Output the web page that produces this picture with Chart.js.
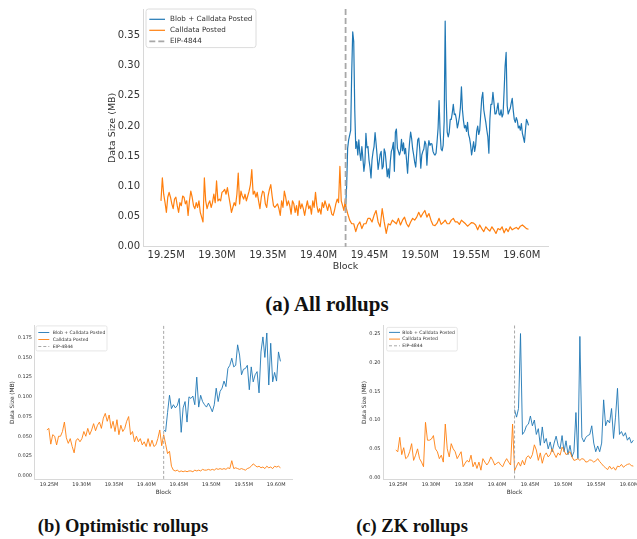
<!DOCTYPE html>
<html>
<head>
<meta charset="utf-8">
<script src="https://cdn.jsdelivr.net/npm/chart.js@4.4.0/dist/chart.umd.min.js"></script>
<style>
  html, body { margin: 0; padding: 0; background: #fff; }
  body { width: 637px; height: 539px; position: relative; overflow: hidden; }
  canvas { position: absolute; }
  .cap {
    position: absolute;
    font-family: "Liberation Serif", "DejaVu Serif", serif;
    font-weight: bold;
    color: #111;
    white-space: nowrap;
    line-height: 1;
    transform: translateX(-50%);
  }
</style>
</head>
<body>
<canvas id="allChart" width="470" height="272" style="left:100px;top:0px"></canvas>
<canvas id="optChart" width="300" height="176" style="left:0px;top:320px"></canvas>
<canvas id="zkChart" width="310" height="176" style="left:350px;top:320px"></canvas>
<div class="cap" style="left:327px;top:294px;font-size:21px">(a) All rollups</div>
<div class="cap" style="left:123px;top:517px;font-size:18.5px">(b) Optimistic rollups</div>
<div class="cap" style="left:412px;top:517px;font-size:18.5px">(c) ZK rollups</div>

<script>
const EIP_4844_BLOCK = 19426587;

// x axis shared by the three panels
const blockMin = 19227200;
const blockMax = 19625800;
const blockTicks = [19250000, 19300000, 19350000, 19400000, 19450000, 19500000, 19550000, 19600000];
const blockTickLabels = ['19.25M', '19.30M', '19.35M', '19.40M', '19.45M', '19.50M', '19.55M', '19.60M'];

// (a) all rollups
// calldata before the fork, bins of 1334 blocks
const allPreStart = 19244900;
const allPreStep = 1334;
const allCalldataPre = [
  0.076, 0.114, 0.087, 0.073, 0.057, 0.082, 0.090, 0.082, 0.071, 0.063,
  0.079, 0.082, 0.068, 0.057, 0.073, 0.068, 0.084, 0.082, 0.071, 0.076,
  0.052, 0.076, 0.092, 0.082, 0.068, 0.063, 0.073, 0.065, 0.076, 0.057,
  0.049, 0.041, 0.114, 0.076, 0.063, 0.071, 0.076, 0.065, 0.073, 0.087,
  0.073, 0.109, 0.076, 0.079, 0.076, 0.090, 0.092, 0.095, 0.087, 0.098,
  0.084, 0.071, 0.057, 0.065, 0.073, 0.068, 0.087, 0.122, 0.071, 0.092,
  0.084, 0.079, 0.087, 0.076, 0.084, 0.092, 0.103, 0.128, 0.087, 0.092,
  0.082, 0.090, 0.076, 0.063, 0.082, 0.092, 0.090, 0.071, 0.065, 0.084,
  0.095, 0.103, 0.084, 0.068, 0.065, 0.068, 0.071, 0.063, 0.052, 0.076,
  0.065, 0.092, 0.082, 0.068, 0.076, 0.068, 0.054, 0.076, 0.071, 0.057,
  0.068, 0.052, 0.076, 0.063, 0.071, 0.063, 0.052, 0.065, 0.076, 0.063,
  0.068, 0.054, 0.076, 0.065, 0.090, 0.068, 0.057, 0.063, 0.054, 0.073,
  0.065, 0.076, 0.068, 0.060, 0.071, 0.065, 0.054, 0.052, 0.060, 0.071,
  0.079, 0.073, 0.133, 0.076, 0.068, 0.060, 0.079
];
// calldata from the fork on, bins of 2000 blocks
const allPostStart = 19426600;
const allPostStep = 2000;
const allCalldataPost = [
  0.068,
  0.055, 0.044, 0.038, 0.038, 0.025, 0.036, 0.041, 0.030, 0.038, 0.038,
  0.047, 0.047, 0.041, 0.052, 0.060, 0.041, 0.033, 0.063, 0.041, 0.022,
  0.038, 0.036, 0.044, 0.041, 0.038, 0.047, 0.036, 0.044, 0.049, 0.038,
  0.033, 0.041, 0.047, 0.044, 0.049, 0.057, 0.049, 0.055, 0.060, 0.049,
  0.055, 0.044, 0.036, 0.035, 0.039, 0.047, 0.037, 0.040, 0.044, 0.038,
  0.038, 0.044, 0.047, 0.041, 0.041, 0.037, 0.044, 0.041, 0.038, 0.034,
  0.037, 0.040, 0.039, 0.036, 0.028, 0.036, 0.030, 0.025, 0.033, 0.029,
  0.026, 0.033, 0.028, 0.022, 0.030, 0.028, 0.033, 0.023, 0.030, 0.025,
  0.033, 0.028, 0.030, 0.032, 0.029, 0.034, 0.036, 0.033, 0.030, 0.029
];
// blob + calldata, bins of 1000 blocks starting at the fork
const allBlobStart = 19426600;
const allBlobStep = 1000;
const allBlob = [
  0.066, 0.100, 0.163, 0.177, 0.185, 0.193, 0.288, 0.356, 0.340, 0.228,
  0.163, 0.174, 0.152, 0.177, 0.155, 0.143, 0.166, 0.147, 0.125, 0.139,
  0.188, 0.164, 0.166, 0.144, 0.132, 0.114, 0.144, 0.157, 0.166, 0.189,
  0.171, 0.151, 0.128, 0.140, 0.153, 0.158, 0.129, 0.133, 0.162, 0.156,
  0.137, 0.116, 0.129, 0.114, 0.141, 0.158, 0.163, 0.173, 0.125, 0.190,
  0.195, 0.163, 0.158, 0.152, 0.158, 0.178, 0.159, 0.172, 0.154, 0.163,
  0.143, 0.122, 0.152, 0.174, 0.190, 0.179, 0.162, 0.152, 0.140, 0.132,
  0.155, 0.177, 0.180, 0.161, 0.130, 0.152, 0.158, 0.162, 0.175, 0.170,
  0.135, 0.163, 0.176, 0.168, 0.171, 0.170, 0.158, 0.154, 0.152, 0.155,
  0.174, 0.196, 0.242, 0.190, 0.162, 0.159, 0.168, 0.207, 0.374, 0.245,
  0.190, 0.182, 0.190, 0.211, 0.211, 0.222, 0.236, 0.219, 0.220, 0.211,
  0.197, 0.205, 0.215, 0.231, 0.265, 0.227, 0.209, 0.197, 0.201, 0.191,
  0.206, 0.186, 0.180, 0.169, 0.152, 0.163, 0.174, 0.158, 0.168, 0.191,
  0.200, 0.186, 0.193, 0.220, 0.246, 0.256, 0.227, 0.216, 0.206, 0.193,
  0.182, 0.155, 0.211, 0.236, 0.236, 0.256, 0.239, 0.220, 0.220, 0.228,
  0.238, 0.220, 0.218, 0.227, 0.215, 0.220, 0.258, 0.300, 0.322, 0.234,
  0.220, 0.225, 0.229, 0.238, 0.246, 0.226, 0.211, 0.206, 0.214, 0.209,
  0.197, 0.200, 0.193, 0.204, 0.188, 0.181, 0.173, 0.193, 0.211, 0.207,
  0.201
];
const allSizeTicks = [0, 0.05, 0.10, 0.15, 0.20, 0.25, 0.30, 0.35];
const allSizeLabels = ['0.00', '0.05', '0.10', '0.15', '0.20', '0.25', '0.30', '0.35'];

// (b) and (c), bins of 3000 blocks
const subStart = 19246600;
const subStep = 3000;
const subEipIndex = 60;

const optCalldata = [
  0.058, 0.060, 0.040, 0.052, 0.050, 0.039, 0.050, 0.050, 0.056, 0.068,
  0.048, 0.041, 0.047, 0.037, 0.029, 0.045, 0.047, 0.043, 0.047, 0.056,
  0.050, 0.060, 0.052, 0.058, 0.066, 0.057, 0.064, 0.068, 0.060, 0.073,
  0.079, 0.069, 0.077, 0.060, 0.069, 0.056, 0.071, 0.052, 0.064, 0.056,
  0.060, 0.069, 0.075, 0.052, 0.056, 0.043, 0.050, 0.043, 0.047, 0.039,
  0.043, 0.037, 0.047, 0.037, 0.045, 0.037, 0.039, 0.047, 0.058, 0.038,
  0.052,
  0.040, 0.028, 0.031, 0.012, 0.007, 0.006, 0.007, 0.005, 0.006, 0.005,
  0.006, 0.005, 0.006, 0.006, 0.005, 0.007, 0.006, 0.007, 0.006, 0.008,
  0.007, 0.007, 0.008, 0.007, 0.008, 0.007, 0.009, 0.008, 0.009, 0.008,
  0.009, 0.008, 0.010, 0.009, 0.019, 0.009, 0.010, 0.009, 0.008, 0.009,
  0.008, 0.007, 0.009, 0.010, 0.012, 0.015, 0.013, 0.011, 0.012, 0.010,
  0.011, 0.009, 0.012, 0.010, 0.011, 0.009, 0.012, 0.011, 0.012, 0.010
];
const optBlob = [
  0.058, 0.056, 0.080, 0.102, 0.085, 0.090, 0.086, 0.089, 0.098, 0.055,
  0.086, 0.094, 0.068, 0.100, 0.098, 0.101, 0.090, 0.125, 0.087, 0.102,
  0.094, 0.090, 0.087, 0.092, 0.087, 0.081, 0.090, 0.111, 0.094, 0.107,
  0.111, 0.120, 0.113, 0.136, 0.140, 0.149, 0.138, 0.140, 0.166, 0.153,
  0.128, 0.135, 0.136, 0.140, 0.109, 0.138, 0.119, 0.128, 0.132, 0.105,
  0.157, 0.176, 0.150, 0.181, 0.115, 0.168, 0.119, 0.131, 0.120, 0.157,
  0.145
];
const optSizeTicks = [0, 0.025, 0.050, 0.075, 0.100, 0.125, 0.150, 0.175];
const optSizeLabels = ['0.000', '0.025', '0.050', '0.075', '0.100', '0.125', '0.150', '0.175'];

const zkCalldata = [
  0.048, 0.045, 0.070, 0.040, 0.052, 0.033, 0.036, 0.045, 0.059, 0.030,
  0.039, 0.050, 0.033, 0.027, 0.019, 0.096, 0.065, 0.065, 0.067, 0.073,
  0.050, 0.045, 0.033, 0.039, 0.027, 0.093, 0.050, 0.036, 0.059, 0.050,
  0.045, 0.033, 0.039, 0.045, 0.019, 0.025, 0.030, 0.027, 0.039, 0.019,
  0.027, 0.016, 0.027, 0.013, 0.033, 0.027, 0.022, 0.027, 0.036, 0.030,
  0.022, 0.025, 0.027, 0.022, 0.019, 0.027, 0.033, 0.027, 0.022, 0.093,
  0.012,
  0.020, 0.027, 0.020, 0.030, 0.022, 0.035, 0.038, 0.033, 0.040, 0.057,
  0.048, 0.030, 0.043, 0.025, 0.038, 0.043, 0.036, 0.040, 0.050, 0.042,
  0.035, 0.043, 0.039, 0.053, 0.047, 0.040, 0.042, 0.045, 0.036, 0.030,
  0.031, 0.033, 0.030, 0.033, 0.032, 0.027, 0.028, 0.031, 0.030, 0.027,
  0.029, 0.033, 0.028, 0.024, 0.020, 0.017, 0.014, 0.020, 0.015, 0.018,
  0.013, 0.020, 0.019, 0.023, 0.018, 0.021, 0.023, 0.024, 0.021, 0.020
];
const zkBlob = [
  0.118, 0.105, 0.120, 0.250, 0.075, 0.080, 0.090, 0.093, 0.107, 0.090,
  0.100, 0.075, 0.085, 0.056, 0.088, 0.060, 0.068, 0.050, 0.062, 0.045,
  0.060, 0.072, 0.056, 0.050, 0.073, 0.045, 0.064, 0.040, 0.056, 0.036,
  0.045, 0.113, 0.033, 0.245, 0.070, 0.062, 0.070, 0.073, 0.075, 0.090,
  0.060, 0.045, 0.055, 0.045, 0.060, 0.135, 0.090, 0.100, 0.095, 0.120,
  0.068, 0.105, 0.155, 0.075, 0.080, 0.072, 0.078, 0.065, 0.070, 0.060,
  0.065
];
const zkSizeTicks = [0, 0.05, 0.10, 0.15, 0.20, 0.25];
const zkSizeLabels = ['0.00', '0.05', '0.10', '0.15', '0.20', '0.25'];

const BLUE = '#1f77b4';
const ORANGE = '#ff7f0e';
const TEXT = '#333';
const SPINE = '#d8d8d8';

function toPoints(start, step, offset, values) {
  return values.map((v, k) => ({ x: start + (offset + k) * step, y: v }));
}

// vertical dashed marker at the fork block
const eipMarker = {
  id: 'eipMarker',
  afterDatasetsDraw(chart, args, o) {
    const { ctx, chartArea: a, scales: { x } } = chart;
    const px = x.getPixelForValue(o.block);
    ctx.save();
    ctx.strokeStyle = o.color;
    ctx.lineWidth = o.width;
    ctx.setLineDash(o.dash);
    ctx.beginPath();
    ctx.moveTo(px, a.top);
    ctx.lineTo(px, a.bottom);
    ctx.stroke();
    ctx.restore();
  }
};

// legend box sitting in the top left corner of the plot
const insetLegend = {
  id: 'insetLegend',
  afterDraw(chart, args, o) {
    const { ctx, chartArea: a } = chart;
    const x = a.left + o.dx, y = a.top + o.dy;
    const ds = chart.data.datasets;
    const items = [
      { text: ds[0].label, color: ds[0].borderColor, width: o.lw, dash: [] },
      { text: ds[1].label, color: ds[1].borderColor, width: o.lw, dash: [] },
      { text: 'EIP-4844', color: o.markColor, width: o.markWidth, dash: o.markDash }
    ];
    ctx.save();
    ctx.fillStyle = 'rgba(255,255,255,0.85)';
    ctx.strokeStyle = '#dcdcdc';
    ctx.lineWidth = o.frame;
    ctx.beginPath();
    ctx.roundRect(x, y, o.w, o.h, o.r);
    ctx.fill();
    ctx.stroke();
    ctx.font = o.font + 'px "DejaVu Sans"';
    ctx.textBaseline = 'middle';
    items.forEach((it, k) => {
      const ry = y + o.row0 + k * o.rowH;
      ctx.strokeStyle = it.color;
      ctx.lineWidth = it.width;
      ctx.setLineDash(it.dash);
      ctx.beginPath();
      ctx.moveTo(x + o.s0, ry);
      ctx.lineTo(x + o.s1, ry);
      ctx.stroke();
      ctx.setLineDash([]);
      ctx.fillStyle = TEXT;
      ctx.fillText(it.text, x + o.tx, ry);
    });
    ctx.restore();
  }
};

function drawPanel(id, cfg) {
  return new Chart(document.getElementById(id), {
    type: 'line',
    data: {
      datasets: [
        { label: 'Blob + Calldata Posted', data: cfg.blob, borderColor: BLUE, borderWidth: cfg.lw, order: 1 },
        { label: 'Calldata Posted', data: cfg.calldata, borderColor: ORANGE, borderWidth: cfg.lw, order: 0 }
      ]
    },
    plugins: [eipMarker, insetLegend],
    options: {
      responsive: false,
      animation: false,
      events: [],
      elements: {
        point: { radius: 0 },
        line: { tension: 0, fill: false, borderJoinStyle: 'round' }
      },
      layout: { padding: cfg.pad },
      plugins: {
        legend: { display: false },
        tooltip: { enabled: false },
        eipMarker: { block: EIP_4844_BLOCK, color: '#a8a8a8', width: cfg.markWidth, dash: cfg.markDash },
        insetLegend: Object.assign({ lw: cfg.lw, markColor: '#a8a8a8', markWidth: cfg.markWidth, markDash: cfg.markDash }, cfg.legend)
      },
      scales: {
        x: {
          type: 'linear',
          min: blockMin,
          max: blockMax,
          afterBuildTicks: s => { s.ticks = blockTicks.map(v => ({ value: v })); },
          afterFit: s => { s.height = cfg.xh; },
          grid: { display: false, drawTicks: false },
          border: { display: true, color: SPINE, width: 1 },
          ticks: {
            autoSkip: false, maxRotation: 0, padding: cfg.tickPad, color: TEXT,
            font: { family: 'DejaVu Sans', size: cfg.tickFont },
            callback: (v, k) => blockTickLabels[k]
          },
          title: {
            display: true, text: 'Block', color: TEXT,
            font: { family: 'DejaVu Sans', size: cfg.titleFont },
            padding: { top: 0, bottom: 0 }
          }
        },
        y: {
          type: 'linear',
          min: cfg.yMin,
          max: cfg.yMax,
          afterBuildTicks: s => { s.ticks = cfg.yTicks.map(v => ({ value: v })); },
          afterFit: s => { s.width = cfg.yw; },
          grid: { display: false, drawTicks: false },
          border: { display: true, color: SPINE, width: 1 },
          ticks: {
            padding: cfg.tickPad, color: TEXT,
            font: { family: 'DejaVu Sans', size: cfg.tickFont },
            callback: (v, k) => cfg.yLabels[k]
          },
          title: {
            display: true, text: 'Data Size (MB)', color: TEXT,
            font: { family: 'DejaVu Sans', size: cfg.titleFont },
            padding: { top: cfg.yTitlePad, bottom: 0 }
          }
        }
      }
    }
  });
}

drawPanel('allChart', {
  calldata: toPoints(allPreStart, allPreStep, 0, allCalldataPre)
    .concat(toPoints(allPostStart, allPostStep, 0, allCalldataPost)),
  blob: toPoints(allBlobStart, allBlobStep, 0, allBlob),
  yMin: 0, yMax: 0.394, yTicks: allSizeTicks, yLabels: allSizeLabels,
  lw: 1.2, markWidth: 1.8, markDash: [6, 3],
  pad: { left: 0, right: 22, top: 5, bottom: 0 },
  yw: 43, xh: 25.3, tickPad: 3, tickFont: 10, titleFont: 9.5, yTitlePad: 7,
  legend: { dx: 3, dy: 0, w: 110, h: 38.6, r: 2.5, frame: 1, row0: 10.3, rowH: 11, s0: 3.3, s1: 19, tx: 24, font: 7.2 }
});

drawPanel('optChart', {
  calldata: toPoints(subStart, subStep, 0, optCalldata),
  blob: toPoints(subStart, subStep, subEipIndex, optBlob),
  yMin: -0.0046, yMax: 0.19, yTicks: optSizeTicks, yLabels: optSizeLabels,
  lw: 0.9, markWidth: 1, markDash: [3, 2],
  pad: { left: 0, right: 7.1, top: 5.9, bottom: 0 },
  yw: 34.3, xh: 16.7, tickPad: 2.3, tickFont: 5, titleFont: 5.8, yTitlePad: 9.2,
  legend: { dx: 1.7, dy: 0, w: 71, h: 25, r: 1.5, frame: 0.7, row0: 6.6, rowH: 7, s0: 2.3, s1: 13.3, tx: 16.7, font: 4.6 }
});

drawPanel('zkChart', {
  calldata: toPoints(subStart, subStep, 0, zkCalldata),
  blob: toPoints(subStart, subStep, subEipIndex, zkBlob),
  yMin: -0.003, yMax: 0.264, yTicks: zkSizeTicks, yLabels: zkSizeLabels,
  lw: 0.9, markWidth: 1, markDash: [3, 2],
  pad: { left: 0, right: 14, top: 3.8, bottom: 0 },
  yw: 33, xh: 16.6, tickPad: 2.5, tickFont: 5, titleFont: 5.8, yTitlePad: 11.5,
  legend: { dx: 3.7, dy: 1.9, w: 70.6, h: 23.6, r: 1.5, frame: 0.7, row0: 5, rowH: 6.7, s0: 2.3, s1: 13.3, tx: 15.6, font: 4.6 }
});
</script>
</body>
</html>
